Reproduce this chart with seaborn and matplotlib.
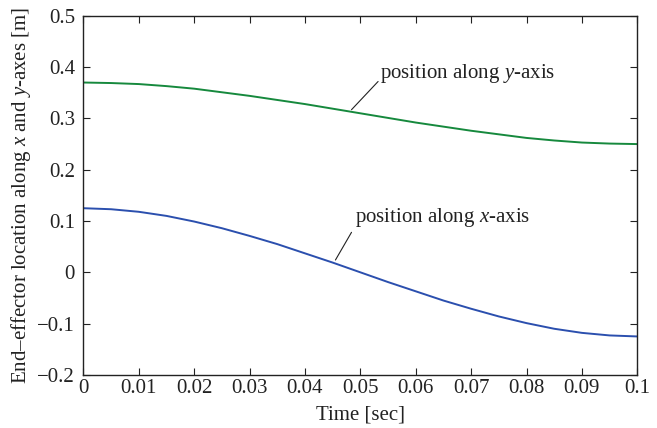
import numpy as np
import pandas as pd
import matplotlib
matplotlib.use('Agg')
import matplotlib.pyplot as plt
import seaborn as sns

# Values
time_sec = [0.000, 0.005, 0.010, 0.015, 0.020, 0.025, 0.030, 0.035, 0.040, 0.045, 0.050,
            0.055, 0.060, 0.065, 0.070, 0.075, 0.080, 0.085, 0.090, 0.095, 0.100]
pos_y = [0.370, 0.369, 0.367, 0.363, 0.358, 0.351, 0.344, 0.336, 0.328, 0.319, 0.310,
         0.301, 0.292, 0.284, 0.276, 0.269, 0.262, 0.257, 0.253, 0.251, 0.250]
pos_x = [0.125, 0.123, 0.118, 0.110, 0.099, 0.086, 0.071, 0.055, 0.037, 0.019, 0.000,
         -0.019, -0.037, -0.055, -0.071, -0.086, -0.099, -0.110, -0.118, -0.123, -0.125]
x_ticks = [0, 0.01, 0.02, 0.03, 0.04, 0.05, 0.06, 0.07, 0.08, 0.09, 0.1]
x_tick_labels = ['0', '0.01', '0.02', '0.03', '0.04', '0.05', '0.06', '0.07', '0.08', '0.09', '0.1']
y_ticks = [-0.2, -0.1, 0, 0.1, 0.2, 0.3, 0.4, 0.5]
y_tick_labels = ['\u22120.2', '\u22120.1', '0', '0.1', '0.2', '0.3', '0.4', '0.5']

df = pd.DataFrame({'time': time_sec, 'y': pos_y, 'x': pos_x})

sns.set_theme(style='ticks')
plt.rcParams['font.family'] = ['Liberation Serif', 'DejaVu Serif']
plt.rcParams['mathtext.fontset'] = 'custom'
plt.rcParams['mathtext.rm'] = 'Liberation Serif'
plt.rcParams['mathtext.it'] = 'Liberation Serif:italic'

fs = 15
fig, ax = plt.subplots(figsize=(6.57, 4.28), dpi=100)
fig.subplots_adjust(left=0.127, right=0.97, top=0.963, bottom=0.124)

sns.lineplot(data=df, x='time', y='y', ax=ax, color='#16893d', lw=1.4)
sns.lineplot(data=df, x='time', y='x', ax=ax, color='#2b4fae', lw=1.4)

ax.set_xlim(0, 0.1)
ax.set_ylim(-0.2, 0.5)
ax.set_xticks(x_ticks)
ax.set_xticklabels(x_tick_labels)
ax.set_yticks(y_ticks)
ax.set_yticklabels(y_tick_labels)
ax.tick_params(direction='in', top=True, right=True, length=5, width=0.8,
               labelsize=fs, colors='#222222')
ax.tick_params(axis='x', pad=3)
ax.tick_params(axis='y', pad=6)
for s in ax.spines.values():
    s.set_linewidth(1.0)
    s.set_color('#222222')

ax.set_xlabel('Time [sec]', fontsize=fs, color='#222222', labelpad=5)
ax.set_ylabel(r'End–effector location along $\mathit{x}$ and $\mathit{y}$-axes [m]',
              fontsize=fs, color='#222222', labelpad=3)

# annotation leaders
ax.annotate('', xy=(0.0484, 0.317), xytext=(0.0532, 0.372),
            arrowprops=dict(arrowstyle='-', color='#222222', lw=0.8, shrinkA=0, shrinkB=0))
ax.text(0.0536, 0.378, r'position along $\mathit{y}$-axis', fontsize=fs, color='#222222',
        ha='left', va='baseline')
ax.annotate('', xy=(0.0455, 0.024), xytext=(0.0484, 0.078),
            arrowprops=dict(arrowstyle='-', color='#222222', lw=0.8, shrinkA=0, shrinkB=0))
ax.text(0.0490, 0.098, r'position along $\mathit{x}$-axis', fontsize=fs, color='#222222',
        ha='left', va='baseline')

fig.savefig('out.png', dpi=100)
